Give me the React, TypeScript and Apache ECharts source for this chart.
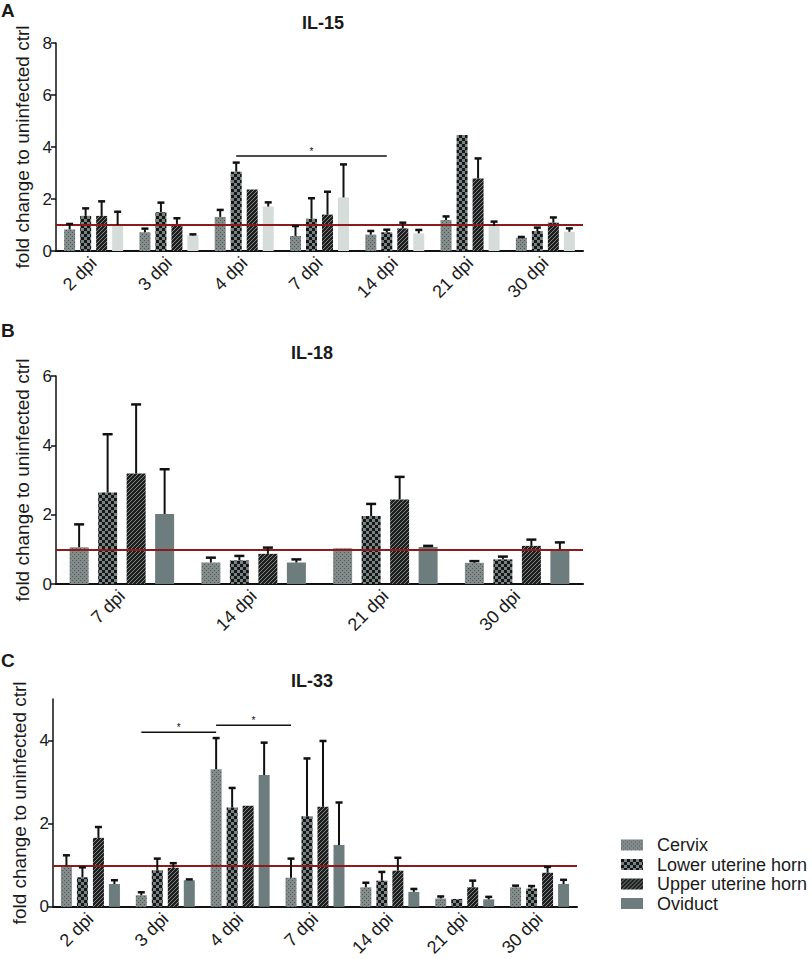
import React, { useEffect, useRef } from 'react';
import * as echarts from 'echarts';

// ---------- data ----------
const tissues = ['Cervix', 'Lower uterine horn', 'Upper uterine horn', 'Oviduct'];

const categoriesA = ['2 dpi', '3 dpi', '4 dpi', '7 dpi', '14 dpi', '21 dpi', '30 dpi'];
const categoriesB = ['7 dpi', '14 dpi', '21 dpi', '30 dpi'];
const categoriesC = ['2 dpi', '3 dpi', '4 dpi', '7 dpi', '14 dpi', '21 dpi', '30 dpi'];

const yTicksA = [0, 2, 4, 6, 8];
const yTicksB = [0, 2, 4, 6];
const yTicksC = [0, 2, 4];

// IL-15 (panel A): means and SEM
const il15Cervix = [0.83, 0.72, 1.31, 0.58, 0.63, 1.19, 0.51];
const il15CervixSem = [0.21, 0.14, 0.27, 0.38, 0.14, 0.14, 0.03];
const il15Lower = [1.35, 1.49, 3.05, 1.24, 0.72, 4.46, 0.77];
const il15LowerSem = [0.29, 0.37, 0.35, 0.79, 0.1, 0, 0.13];
const il15Upper = [1.35, 1.04, 2.37, 1.4, 0.87, 2.79, 1.09];
const il15UpperSem = [0.56, 0.22, 0, 0.88, 0.22, 0.77, 0.2];
const il15Oviduct = [1.0, 0.6, 1.71, 2.06, 0.68, 0.96, 0.74];
const il15OviductSem = [0.51, 0.04, 0.16, 1.27, 0.13, 0.17, 0.13];

// IL-18 (panel B)
const il18Cervix = [1.06, 0.62, 1.03, 0.61];
const il18CervixSem = [0.66, 0.14, 0, 0.05];
const il18Lower = [2.64, 0.68, 1.96, 0.71];
const il18LowerSem = [1.68, 0.13, 0.35, 0.08];
const il18Upper = [3.19, 0.87, 2.44, 1.1];
const il18UpperSem = [1.99, 0.18, 0.65, 0.18];
const il18Oviduct = [2.02, 0.62, 1.07, 1.0];
const il18OviductSem = [1.29, 0.09, 0.03, 0.2];

// IL-33 (panel C)
const il33Cervix = [0.99, 0.28, 3.31, 0.7, 0.47, 0.2, 0.47];
const il33CervixSem = [0.25, 0.07, 0.75, 0.46, 0.11, 0.05, 0.04];
const il33Lower = [0.71, 0.88, 2.39, 2.18, 0.63, 0.19, 0.44];
const il33LowerSem = [0.24, 0.28, 0.47, 1.39, 0.21, 0, 0.06];
const il33Upper = [1.66, 0.94, 2.43, 2.41, 0.87, 0.47, 0.82];
const il33UpperSem = [0.26, 0.11, 0, 1.58, 0.31, 0.16, 0.14];
const il33Oviduct = [0.55, 0.64, 3.17, 1.49, 0.36, 0.18, 0.55];
const il33OviductSem = [0.09, 0.02, 0.78, 1.02, 0.07, 0.06, 0.1];

// significance brackets: [fromCategory, toCategory, yValue, tissueIndex]
const sigA = [[2, 4, 3.65, 1]];
const sigB: number[][] = [];
const sigC = [[1, 2, 4.2, 0], [2, 3, 4.37, 0]];

const baseline = 1;

// ---------- helpers ----------
function makePattern(w: number, h: number, draw: (ctx: CanvasRenderingContext2D) => void) {
  const c = document.createElement('canvas');
  c.width = w;
  c.height = h;
  const ctx = c.getContext('2d')!;
  draw(ctx);
  return { image: c, repeat: 'repeat' } as any;
}

const TEXT = '#1a1a1a';
const FONT = "'Liberation Sans', Arial, Helvetica, sans-serif";

export default function App() {
  const ref = useRef<HTMLDivElement>(null);

  useEffect(() => {
    if (!ref.current) return;
    const chart = echarts.init(ref.current, undefined, { renderer: 'svg' });

    const cervixPat = makePattern(4, 4, (ctx) => {
      ctx.fillStyle = '#838b8b';
      ctx.fillRect(0, 0, 4, 4);
      ctx.fillStyle = '#4f5757';
      ctx.fillRect(0, 0, 1, 1);
      ctx.fillRect(2, 2, 1, 1);
    });
    const lowerPat = makePattern(6, 6, (ctx) => {
      ctx.fillStyle = '#788484';
      ctx.fillRect(0, 0, 6, 6);
      ctx.fillStyle = '#161616';
      ctx.fillRect(0, 0, 3, 3);
      ctx.fillRect(3, 3, 3, 3);
    });
    const upperPat = makePattern(4, 4, (ctx) => {
      ctx.fillStyle = '#1f1f1f';
      ctx.fillRect(0, 0, 4, 4);
      ctx.fillStyle = '#7d8585';
      ctx.fillRect(3, 0, 1, 1);
      ctx.fillRect(2, 1, 1, 1);
      ctx.fillRect(1, 2, 1, 1);
      ctx.fillRect(0, 3, 1, 1);
    });

    const panels = [
      {
        letter: 'A', title: 'IL-15', titleX: 323, titleTop: 14, letterTop: 1,
        cats: categoriesA, ticks: yTicksA, yMax: 8,
        means: [il15Cervix, il15Lower, il15Upper, il15Oviduct],
        sems: [il15CervixSem, il15LowerSem, il15UpperSem, il15OviductSem],
        grid: { left: 56, top: 43, width: 527, height: 208 },
        barWidth: 11, gapRatio: 5 / 11, capW: 7,
        oviduct: '#d6dcd9', sig: sigA,
      },
      {
        letter: 'B', title: 'IL-18', titleX: 312, titleTop: 344, letterTop: 321,
        cats: categoriesB, ticks: yTicksB, yMax: 6,
        means: [il18Cervix, il18Lower, il18Upper, il18Oviduct],
        sems: [il18CervixSem, il18LowerSem, il18UpperSem, il18OviductSem],
        grid: { left: 56, top: 376, width: 527, height: 208 },
        barWidth: 19, gapRatio: 0.5, capW: 10,
        oviduct: '#6d7c7c', sig: sigB,
      },
      {
        letter: 'C', title: 'IL-33', titleX: 312, titleTop: 672, letterTop: 651,
        cats: categoriesC, ticks: yTicksC, yMax: 5,
        means: [il33Cervix, il33Lower, il33Upper, il33Oviduct],
        sems: [il33CervixSem, il33LowerSem, il33UpperSem, il33OviductSem],
        grid: { left: 53, top: 699, width: 524, height: 208 },
        barWidth: 11, gapRatio: 5 / 11, capW: 7,
        oviduct: '#6d7c7c', sig: sigC,
      },
    ];

    const grids: any[] = [];
    const xAxes: any[] = [];
    const yAxes: any[] = [];
    const titles: any[] = [];
    const seriesByPanel: any[][] = [];

    panels.forEach((p, pi) => {
      grids.push({ ...p.grid, containLabel: false });
      xAxes.push({
        type: 'category', gridIndex: pi, data: p.cats,
        axisLine: { lineStyle: { color: '#111', width: 2 } },
        axisTick: { alignWithLabel: true, length: 5, lineStyle: { color: '#111', width: 1.5 } },
        axisLabel: { rotate: 45, fontSize: 18, color: TEXT, fontFamily: FONT, margin: 9, interval: 0 },
        splitLine: { show: false },
      });
      yAxes.push({
        type: 'value', gridIndex: pi, min: 0, max: p.yMax,
        name: 'fold change to uninfected ctrl', nameLocation: 'middle', nameRotate: 90, nameGap: 21,
        nameTextStyle: { fontSize: 19, color: TEXT, fontFamily: FONT },
        axisLine: { show: true, lineStyle: { color: '#111', width: 1.5 } },
        axisTick: { show: true, length: 5, lineStyle: { color: '#111', width: 1.5 }, customValues: p.ticks },
        axisLabel: { fontSize: 17, color: TEXT, fontFamily: FONT, margin: 4, customValues: p.ticks },
        splitLine: { show: false },
      });
      titles.push({
        text: p.title, left: p.titleX, top: p.titleTop, textAlign: 'center', padding: 0,
        textStyle: { fontSize: 18, fontWeight: 'bold', color: TEXT, fontFamily: FONT },
      });
      titles.push({
        text: p.letter, left: 1, top: p.letterTop, padding: 0,
        textStyle: { fontSize: 19, fontWeight: 'bold', color: TEXT, fontFamily: FONT },
      });

      const fills = [cervixPat, lowerPat, upperPat, p.oviduct];
      const spacing = p.barWidth * (1 + p.gapRatio);
      const list: any[] = [];
      tissues.forEach((name, k) => {
        const s: any = {
          type: 'bar', name, xAxisIndex: pi, yAxisIndex: pi,
          data: p.means[k], barWidth: p.barWidth, barGap: (p.gapRatio * 100).toFixed(2) + '%',
          itemStyle: { color: fills[k] }, silent: true,
        };
        if (k === 3) {
          s.markLine = {
            silent: true, symbol: ['none', 'none'], label: { show: false },
            lineStyle: { color: '#8e1b1b', width: 2, type: 'solid' },
            data: [{ yAxis: baseline }], z: 5,
          };
        }
        list.push(s);
      });

      const errData: number[][] = [];
      for (let k = 0; k < 4; k++) {
        p.means[k].forEach((m, i) => {
          const sem = p.sems[k][i];
          if (sem > 0) errData.push([i, m, m + sem, k]);
        });
      }
      list.push({
        type: 'custom', name: 'err' + pi, xAxisIndex: pi, yAxisIndex: pi, silent: true, z: 6,
        encode: { x: 0, y: [1, 2] },
        data: errData,
        renderItem: (params: any, api: any) => {
          const cat = api.value(0);
          const b = api.coord([cat, api.value(1)]);
          const t = api.coord([cat, api.value(2)]);
          const x = b[0] + (api.value(3) - 1.5) * spacing;
          return {
            type: 'group',
            children: [
              { type: 'line', shape: { x1: x, y1: b[1], x2: x, y2: t[1] }, style: { stroke: '#111', lineWidth: 2 } },
              { type: 'line', shape: { x1: x - p.capW / 2, y1: t[1], x2: x + p.capW / 2, y2: t[1] }, style: { stroke: '#111', lineWidth: 2.5 } },
            ],
          };
        },
      });

      if (p.sig.length) {
        list.push({
          type: 'custom', name: 'sig' + pi, xAxisIndex: pi, yAxisIndex: pi, silent: true, z: 6,
          encode: { x: [0, 1], y: 2 },
          data: p.sig,
          renderItem: (params: any, api: any) => {
            const off = (api.value(3) - 1.5) * spacing;
            const a = api.coord([api.value(0), api.value(2)]);
            const b = api.coord([api.value(1), api.value(2)]);
            const x1 = a[0] + off;
            const x2 = b[0] + off;
            return {
              type: 'group',
              children: [
                { type: 'line', shape: { x1, y1: a[1], x2, y2: a[1] }, style: { stroke: '#111', lineWidth: 1.5 } },
                {
                  type: 'text', x: (x1 + x2) / 2, y: a[1] - 5,
                  style: { text: '*', fontSize: 10, fill: '#111', align: 'center', verticalAlign: 'middle', fontFamily: FONT },
                },
              ],
            };
          },
        });
      }
      seriesByPanel.push(list);
    });

    // panel C first so the legend swatches use its colours
    const series = [...seriesByPanel[2], ...seriesByPanel[1], ...seriesByPanel[0]];

    chart.setOption({
      animation: false,
      backgroundColor: '#fff',
      textStyle: { fontFamily: FONT },
      title: titles,
      grid: grids,
      xAxis: xAxes,
      yAxis: yAxes,
      legend: {
        orient: 'vertical', left: 621, top: 836, padding: 0,
        itemWidth: 22, itemHeight: 11, itemGap: 1.5, icon: 'rect',
        selectedMode: false,
        textStyle: { fontSize: 18, color: TEXT, fontFamily: FONT, padding: [0, 0, 0, 9] },
        data: tissues.map((n) => ({ name: n })),
      },
      series,
    });

    return () => chart.dispose();
  }, []);

  return (
    <div
      ref={ref}
      style={{ position: 'fixed', left: 0, top: 0, width: 812, height: 959, background: '#fff' }}
    />
  );
}
